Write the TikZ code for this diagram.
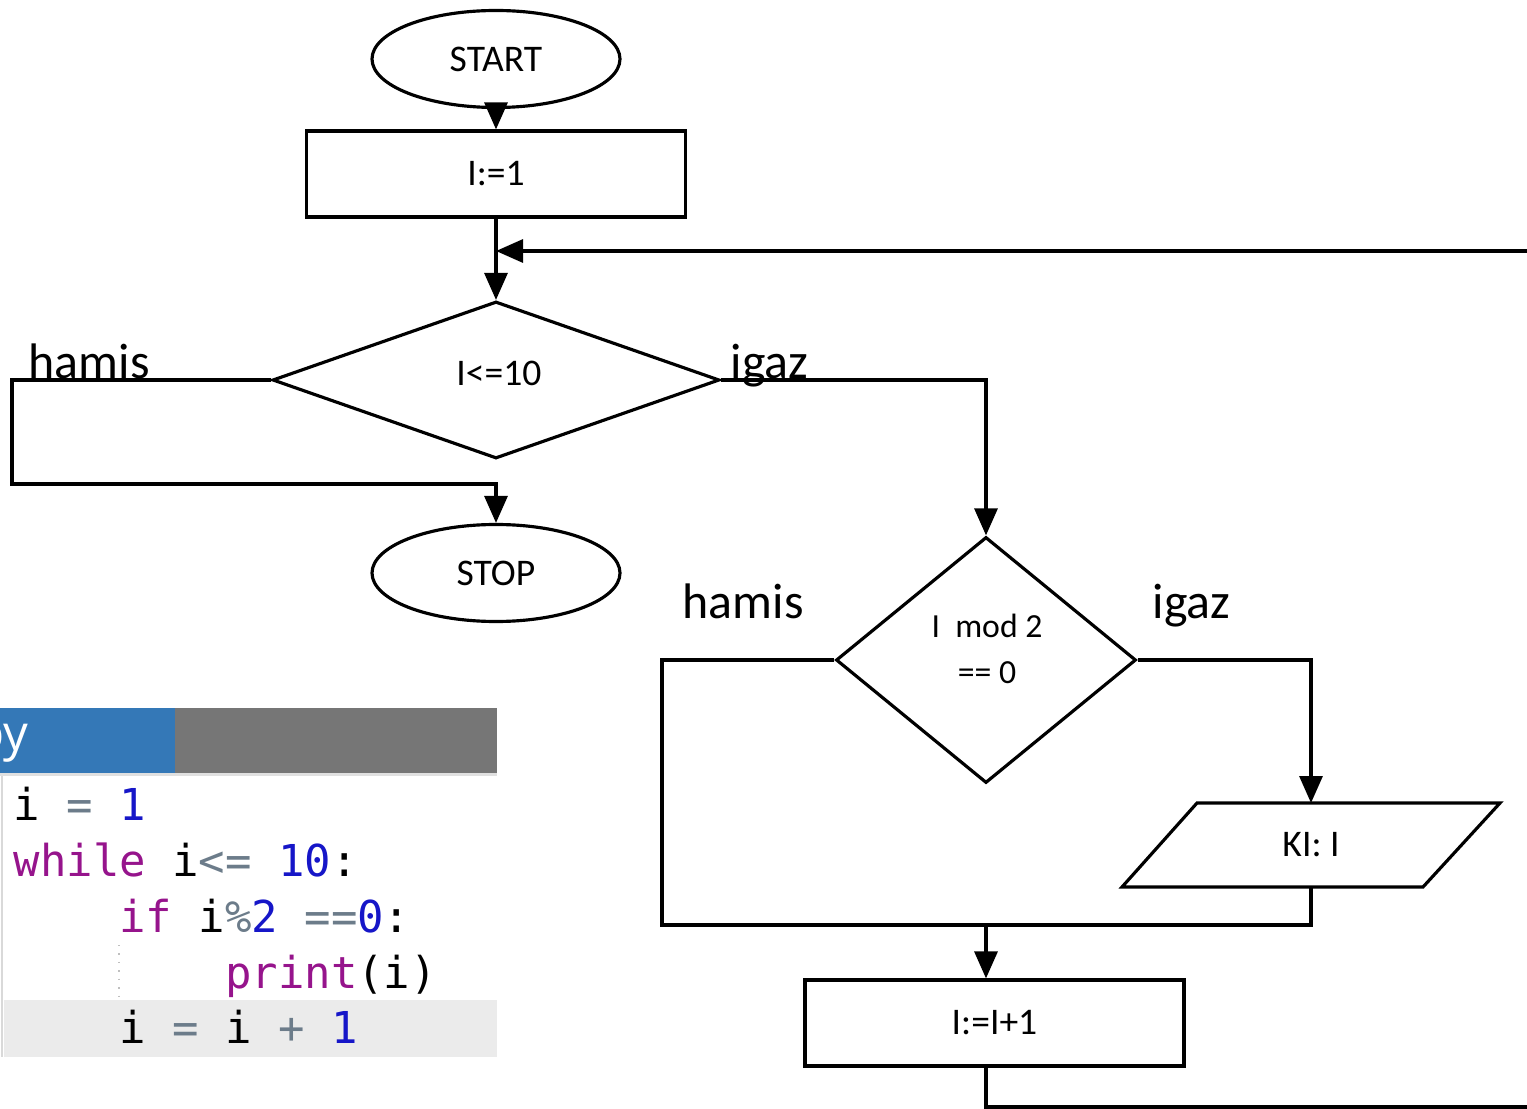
\documentclass[tikz,border=0pt]{standalone}
\usepackage{fontspec}
\setmonofont{DejaVu Sans Mono}
\newfontfamily\flowfont{Carlito}
\newfontfamily\tabfont{Open Sans}
\usetikzlibrary{shapes.geometric,arrows.meta,calc}

\definecolor{tabblue}{RGB}{52,120,183}
\definecolor{tabgrey}{RGB}{118,118,118}
\definecolor{kwpurple}{RGB}{150,20,140}
\definecolor{numblue}{RGB}{22,22,200}
\definecolor{opgrey}{RGB}{108,124,138}
\definecolor{hlgrey}{RGB}{235,235,235}

\tikzset{
  flow/.style={line width=0.9pt, draw=black},
  arr/.style={flow, -{Triangle[length=0.27cm,width=0.23cm]}},
  flowtext/.style={inner sep=0pt, font=\flowfont\fontsize{10.7}{12}\selectfont},
  terminal/.style={flow, ellipse, minimum width=2.48cm, minimum height=0.97cm, inner sep=0pt, font=\flowfont\fontsize{10.7}{12}\selectfont},
  process/.style={flow, rectangle, minimum width=3.79cm, minimum height=0.86cm, inner sep=0pt, font=\flowfont\fontsize{10.7}{12}\selectfont},
  decision/.style={flow, diamond, inner sep=0pt, aspect=1},
  branch/.style={inner sep=0pt, font=\flowfont\fontsize{14.2}{16}\selectfont},
  codeline/.style={anchor=base west, inner sep=0pt, font=\ttfamily\fontsize{12.5}{15}\selectfont},
}

\newcommand{\kw}[1]{\textcolor{kwpurple}{#1}}
\newcommand{\num}[1]{\textcolor{numblue}{#1}}
\newcommand{\op}[1]{\textcolor{opgrey}{#1}}

\begin{document}
\begin{tikzpicture}
\clip (0,0) rectangle (15.27,-11.09);
\fill[white] (0,0) rectangle (15.27,-11.09);

% ---------- flowchart nodes ----------
\node[terminal] (start) at (4.96,-0.59) {START};
\node[process] (init) at (4.96,-1.74) {I:=1};
\node[decision, minimum width=4.47cm, minimum height=1.57cm] (cond) at (4.96,-3.80) {};
\node[flowtext] (condtext) at (4.99,-3.73) {I<=10};
\node[terminal] (stop) at (4.96,-5.73) {STOP};
\node[decision, minimum width=3.00cm, minimum height=2.46cm] (even) at (9.86,-6.60) {};
\node[flowtext, font=\flowfont\fontsize{9.6}{13.1}\selectfont, align=center] (eventext) at (9.87,-6.49) {I\ \ mod 2\\[0pt]== 0};
\node[process] (inc) at (9.945,-10.23) {I:=I+1};

% output parallelogram
\coordinate (outT) at (13.11,-8.03);
\coordinate (outB) at (13.11,-8.87);
\draw[flow] (11.97,-8.03) -- (15.00,-8.03) -- (14.23,-8.87) -- (11.22,-8.87) -- cycle;
\node[flowtext] (out) at (13.11,-8.45) {KI: I};

% branch labels
\node[branch, anchor=base west] (f1) at (0.28,-3.79) {hamis};
\node[branch, anchor=base west] (t1) at (7.30,-3.79) {igaz};
\node[branch, anchor=base west] (f2) at (6.82,-6.18) {hamis};
\node[branch, anchor=base west] (t2) at (11.52,-6.18) {igaz};

% ---------- connectors ----------
\coordinate (join) at (4.96,-2.51);
\coordinate (merge) at (9.86,-9.25);
\draw[arr] (start.south) -- (init.north);
\draw[flow] (init.south) -- (join);
\draw[arr] (join) -- (cond.north);
\draw[arr] (cond.west) -- (0.12,-3.80) -- (0.12,-4.84) -- (4.96,-4.84) -- (stop.north);
\draw[arr] (cond.east) -- (9.86,-3.80) -- (even.north);
\draw[arr] (even.east) -- (13.11,-6.60) -- (outT);
\draw[flow] (even.west) -- (6.62,-6.60) -- (6.62,-9.25) -- (13.11,-9.25) -- (outB);
\draw[arr] (merge) -- (merge |- inc.north);
\draw[arr] (inc.south -| merge) -- (9.86,-11.07) -- (15.45,-11.07) -- (15.45,-2.51) -- (join);

% ---------- code panel ----------
\fill[tabblue] (0,-7.08) rectangle (1.75,-7.73);
\fill[tabgrey] (1.75,-7.08) rectangle (4.97,-7.73);
\node[anchor=base east, inner sep=0pt, text=white, font=\tabfont\fontsize{14}{16}\selectfont] (tab) at (0.29,-7.50) {.py};
\fill[black!12] (0,-7.73) rectangle (4.97,-7.76);
\fill[hlgrey] (0.04,-10.00) rectangle (4.97,-10.57);
\draw[black!15, line width=0.6pt] (0.02,-7.76) -- (0.02,-10.57);
\draw[black!25, dotted, line width=0.4pt] (1.19,-9.45) -- (1.19,-10.00);

\node[codeline] (c1) at (0.13,-8.20) {i \op{=} \num{1}};
\node[codeline] (c2) at (0.13,-8.76) {\kw{while} i\op{<=} \num{10}:};
\node[codeline] (c3) at (0.13,-9.32) {\ \ \ \ \kw{if} i\op{\%}\num{2} \op{==}\num{0}:};
\node[codeline] (c4) at (0.13,-9.88) {\ \ \ \ \ \ \ \ \kw{print}(i)};
\node[codeline] (c5) at (0.13,-10.43) {\ \ \ \ i \op{=} i \op{+} \num{1}};
\end{tikzpicture}
\end{document}
